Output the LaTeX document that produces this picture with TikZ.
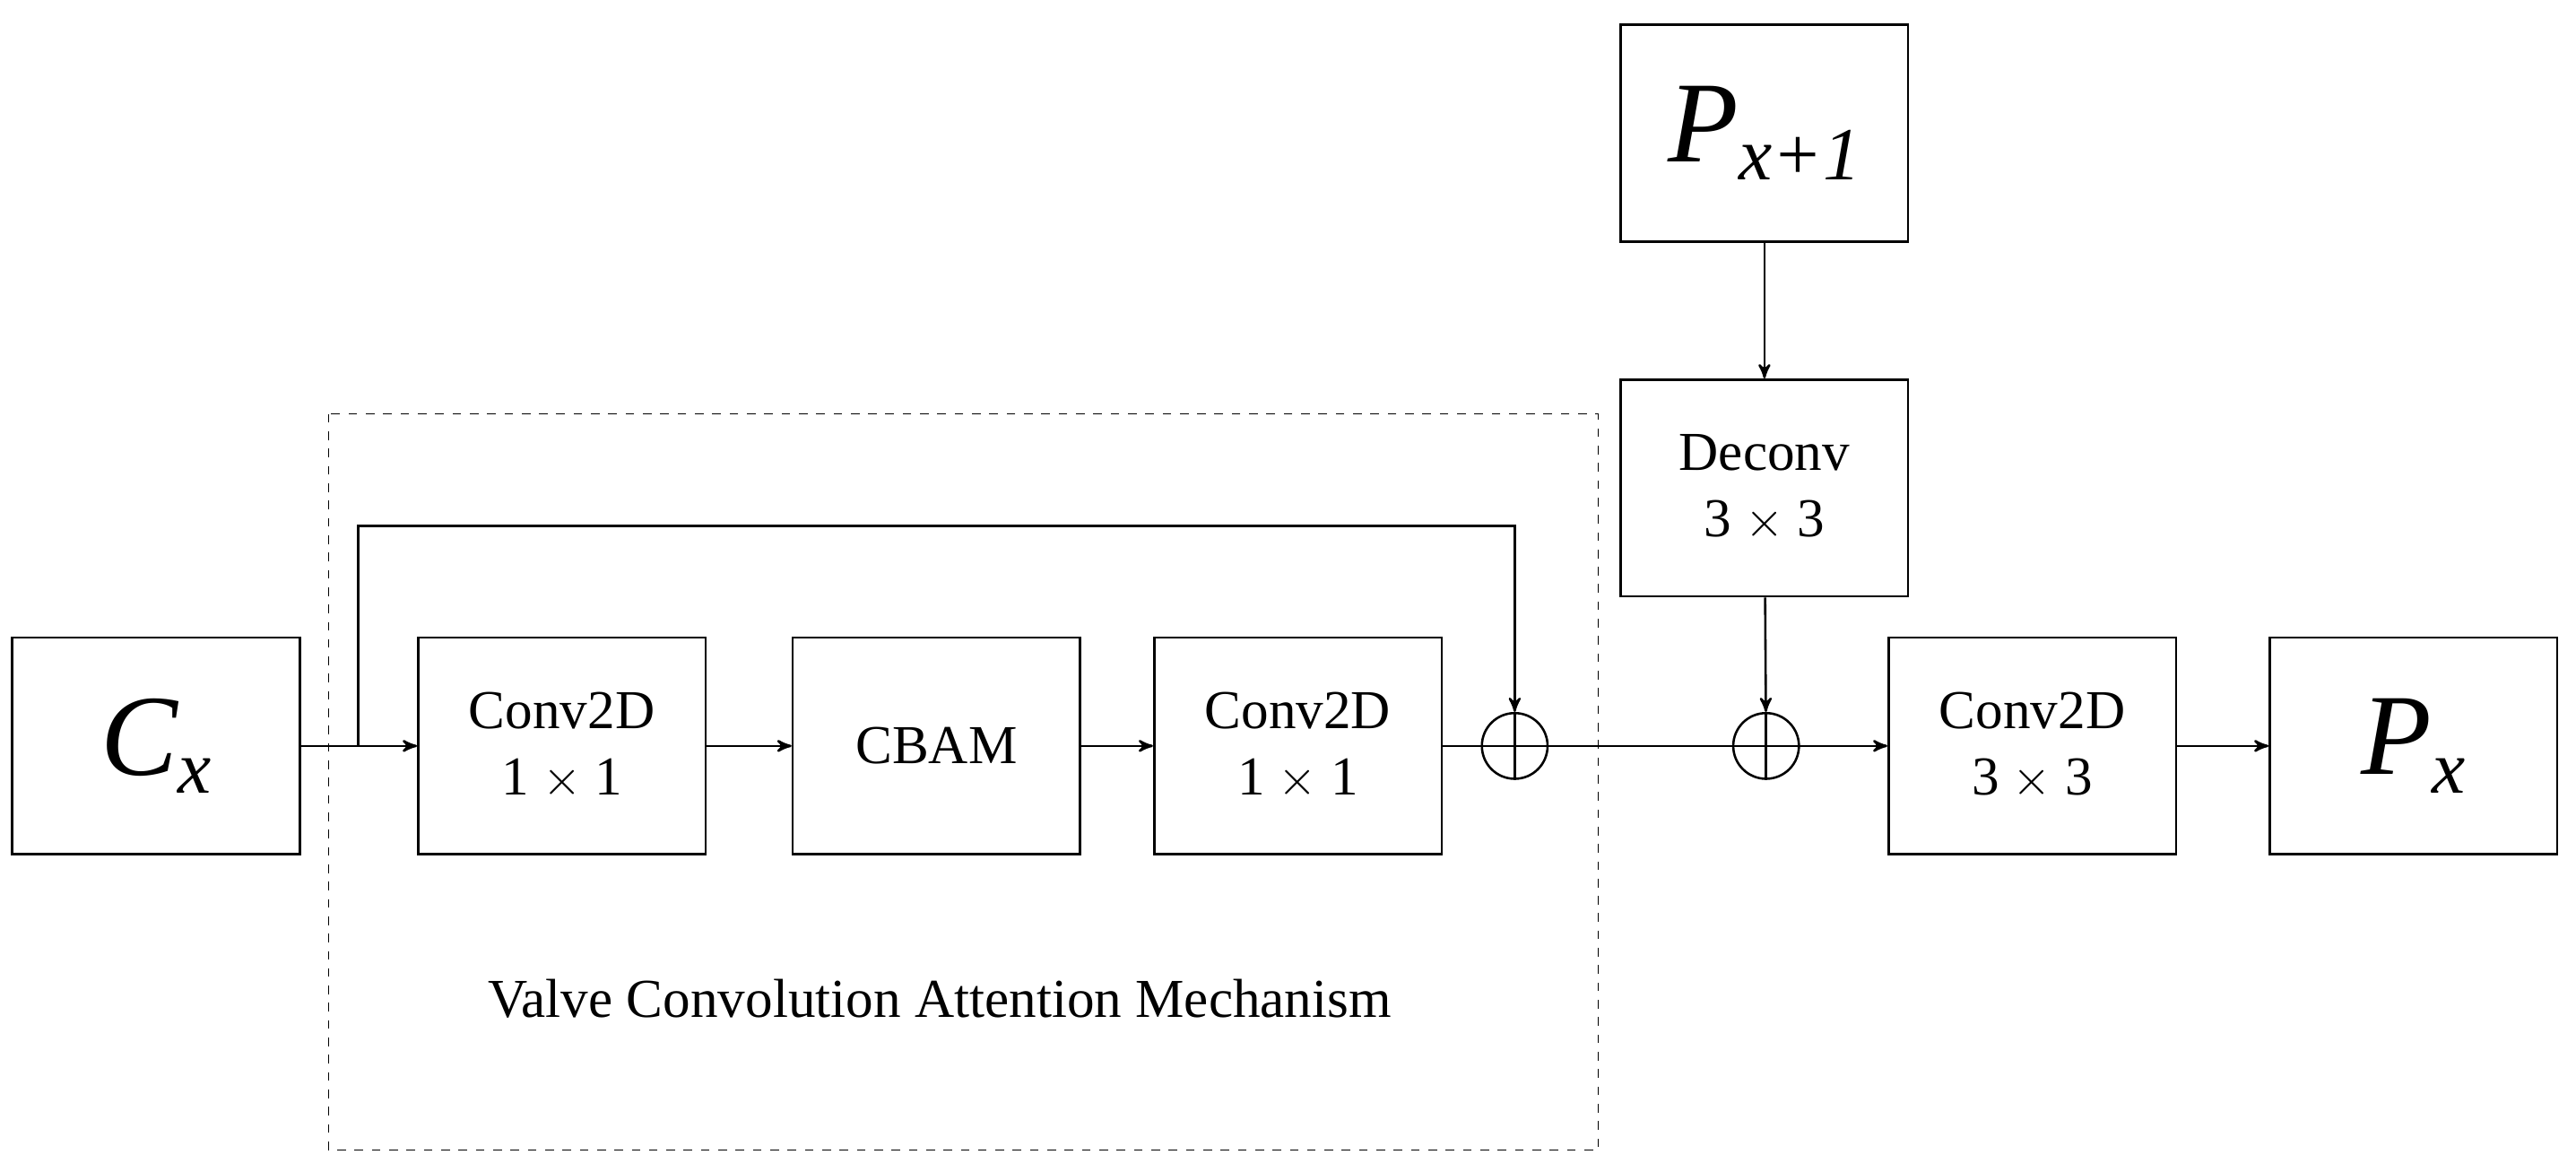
\documentclass[tikz,border=0pt]{standalone}
\usepackage{fontspec}
\setmainfont{Liberation Serif}
\usetikzlibrary{arrows}
\begin{document}
\begin{tikzpicture}[x=0.02cm,y=-0.02cm,->,>=stealth',thick,
    block/.style={draw,rectangle,minimum width=3.5cm,minimum height=2.64cm,
      align=center,font=\fontsize{19}{23}\selectfont},
    big/.style={block,font=\fontsize{40}{44}\selectfont\itshape},
    sum/.style={draw,circle,minimum size=0.8cm,inner sep=0pt,thick}]
  \useasboundingbox (0,0) rectangle (1568,713);

  \node[big] (C) at (95,454) {C\raisebox{-0.35ex}{\fontsize{26}{28}\selectfont x}};
  \node[block] (A) at (342,454) {Conv2D\\1 $\times$ 1};
  \node[block] (B) at (570,454) {CBAM};
  \node[block] (D) at (790,454) {Conv2D\\1 $\times$ 1};
  \node[sum] (S1) at (922,454) {};
  \node[sum] (S2) at (1075,454) {};
  \node[block] (E) at (1237,454) {Conv2D\\3 $\times$ 3};
  \node[big] (P) at (1469,454) {P\raisebox{-0.35ex}{\fontsize{26}{28}\selectfont x}};
  \node[big] (Q) at (1074,81) {P\raisebox{-0.35ex}{\fontsize{26}{28}\selectfont x+1}};
  \node[block] (F) at (1074,297) {Deconv\\3 $\times$ 3};
  \draw[-,thick] (S1.north) -- (S1.south) (S1.west) -- (S1.east);
  \draw[-,thick] (S2.north) -- (S2.south) (S2.west) -- (S2.east);

  \draw[-,thin,dashed] (200,252) rectangle (973,700);
  \node[draw=none,font=\fontsize{19}{23}\selectfont] (L) at (572,608) {Valve Convolution Attention Mechanism};

  \coordinate (T) at (218,454);
  \draw (C) -- (A);
  \draw (T) -- (218,320) -- (922,320) -- (S1);
  \draw (A) -- (B);
  \draw (B) -- (D);
  \draw[-] (D) -- (S1);
  \draw[-] (S1) -- (S2);
  \draw (S2) -- (E);
  \draw (E) -- (P);
  \draw (Q) -- (F);
  \draw (F) -- (S2);
\end{tikzpicture}
\end{document}
